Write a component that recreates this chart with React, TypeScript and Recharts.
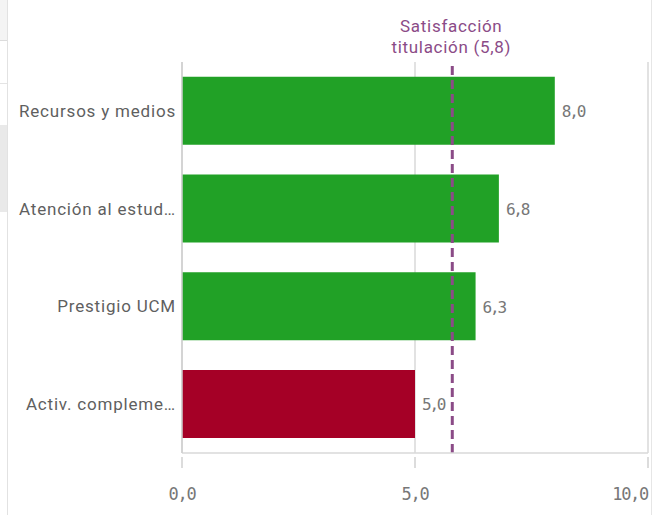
import React from "react";
import {
  BarChart,
  Bar,
  XAxis,
  YAxis,
  CartesianGrid,
  ReferenceLine,
  LabelList,
  Cell,
} from "recharts";

const categories = [
  "Recursos y medios",
  "Atención al estud…",
  "Prestigio UCM",
  "Activ. compleme…",
];
const values = [8.0, 6.8, 6.3, 5.0];
const barColors = ["#21a126", "#21a126", "#21a126", "#a50026"];
const xTicks = [0, 5, 10];
const referenceValue = 5.8;
const referenceLabel = ["Satisfacción", "titulación (5,8)"];

const data = categories.map((name, i) => ({ name, value: values[i] }));

const fmt = (v: number) => v.toFixed(1).replace(".", ",");

const MONO = "'DejaVu Sans Mono', 'Liberation Mono', monospace";
const SANS = "Roboto, 'Noto Sans', sans-serif";
const PURPLE = "#8b4b87";

const XTick = (props: any) => {
  const { x, y, payload, index } = props;
  const anchor = index === xTicks.length - 1 ? "end" : "middle";
  return (
    <g>
      <line x1={x} x2={x} y1={y + 4} y2={y + 15} stroke="#d0d0d0" strokeWidth={1.5} />
      <text
        x={x}
        y={y + 47}
        textAnchor={anchor}
        fill="#777"
        fontFamily={MONO}
        fontSize={17}
        letterSpacing={-1.3}
      >
        {fmt(payload.value)}
      </text>
    </g>
  );
};

const YTick = (props: any) => {
  const { x, y, payload } = props;
  return (
    <text
      x={x}
      y={y}
      dy={6}
      textAnchor="end"
      fill="#5f5f5f"
      fontFamily={SANS}
      fontSize={17}
      letterSpacing={0.8}
    >
      {payload.value}
    </text>
  );
};

const BarValueLabel = (props: any) => {
  const { x, y, width, height, value } = props;
  return (
    <text
      x={x + width + 7}
      y={y + height / 2 + 6.5}
      fill="#777"
      fontFamily={MONO}
      fontSize={16}
      letterSpacing={-2.2}
    >
      {fmt(Number(value))}
    </text>
  );
};

const RefLabel = (props: any) => {
  const vb = props.viewBox || {};
  const cx = vb.x - 1;
  return (
    <g>
      <text x={cx} y={32} textAnchor="middle" fill={PURPLE} fontFamily={SANS} fontSize={17} letterSpacing={0.7}>
        {referenceLabel[0]}
      </text>
      <text x={cx} y={53} textAnchor="middle" fill={PURPLE} fontFamily={SANS} fontSize={17} letterSpacing={0.7}>
        {referenceLabel[1]}
      </text>
    </g>
  );
};

export default function App() {
  return (
    <div
      style={{
        position: "absolute",
        left: 0,
        top: 0,
        width: 668,
        height: 515,
        background: "#fff",
        overflow: "hidden",
      }}
    >
      {/* surrounding UI chrome */}
      <div style={{ position: "absolute", left: 0, top: 0, width: 7, height: 40, background: "#f4f4f4" }} />
      <div style={{ position: "absolute", left: 0, top: 40, width: 7, height: 1, background: "#dcdcdc" }} />
      <div style={{ position: "absolute", left: 0, top: 83, width: 7, height: 1, background: "#e4e4e4" }} />
      <div style={{ position: "absolute", left: 0, top: 125, width: 7, height: 87, background: "#e9e9e9" }} />
      <div style={{ position: "absolute", left: 7, top: 0, width: 1, height: 515, background: "#e2e2e2" }} />
      <div style={{ position: "absolute", left: 651, top: 0, width: 1, height: 515, background: "#e6e6e6" }} />
      <div style={{ position: "absolute", left: 0, top: 0 }}>
        <BarChart
          width={668}
          height={515}
          data={data}
          layout="vertical"
          margin={{ top: 62, right: 20, bottom: 0, left: 0 }}
          barCategoryGap="15%"
        >
          <CartesianGrid horizontal={false} vertical={true} stroke="#d9d9d9" strokeWidth={1.5} />
          <XAxis
            type="number"
            domain={[0, 10]}
            ticks={xTicks}
            height={62}
            axisLine={{ stroke: "#d9d9d9", strokeWidth: 1.5 }}
            tickLine={false}
            tickSize={0}
            tickMargin={0}
            tick={<XTick />}
            interval={0}
          />
          <YAxis
            type="category"
            dataKey="name"
            width={182}
            axisLine={{ stroke: "#cfcfcf", strokeWidth: 1.5 }}
            tickLine={false}
            tickSize={0}
            tickMargin={6}
            tick={<YTick />}
            interval={0}
          />
          <Bar dataKey="value" isAnimationActive={false}>
            {data.map((d, i) => (
              <Cell key={d.name} fill={barColors[i]} />
            ))}
            <LabelList dataKey="value" content={<BarValueLabel />} />
          </Bar>
          <ReferenceLine
            x={referenceValue}
            stroke={PURPLE}
            strokeWidth={3}
            strokeDasharray="9 5"
            label={<RefLabel />}
          />
        </BarChart>
      </div>
    </div>
  );
}
